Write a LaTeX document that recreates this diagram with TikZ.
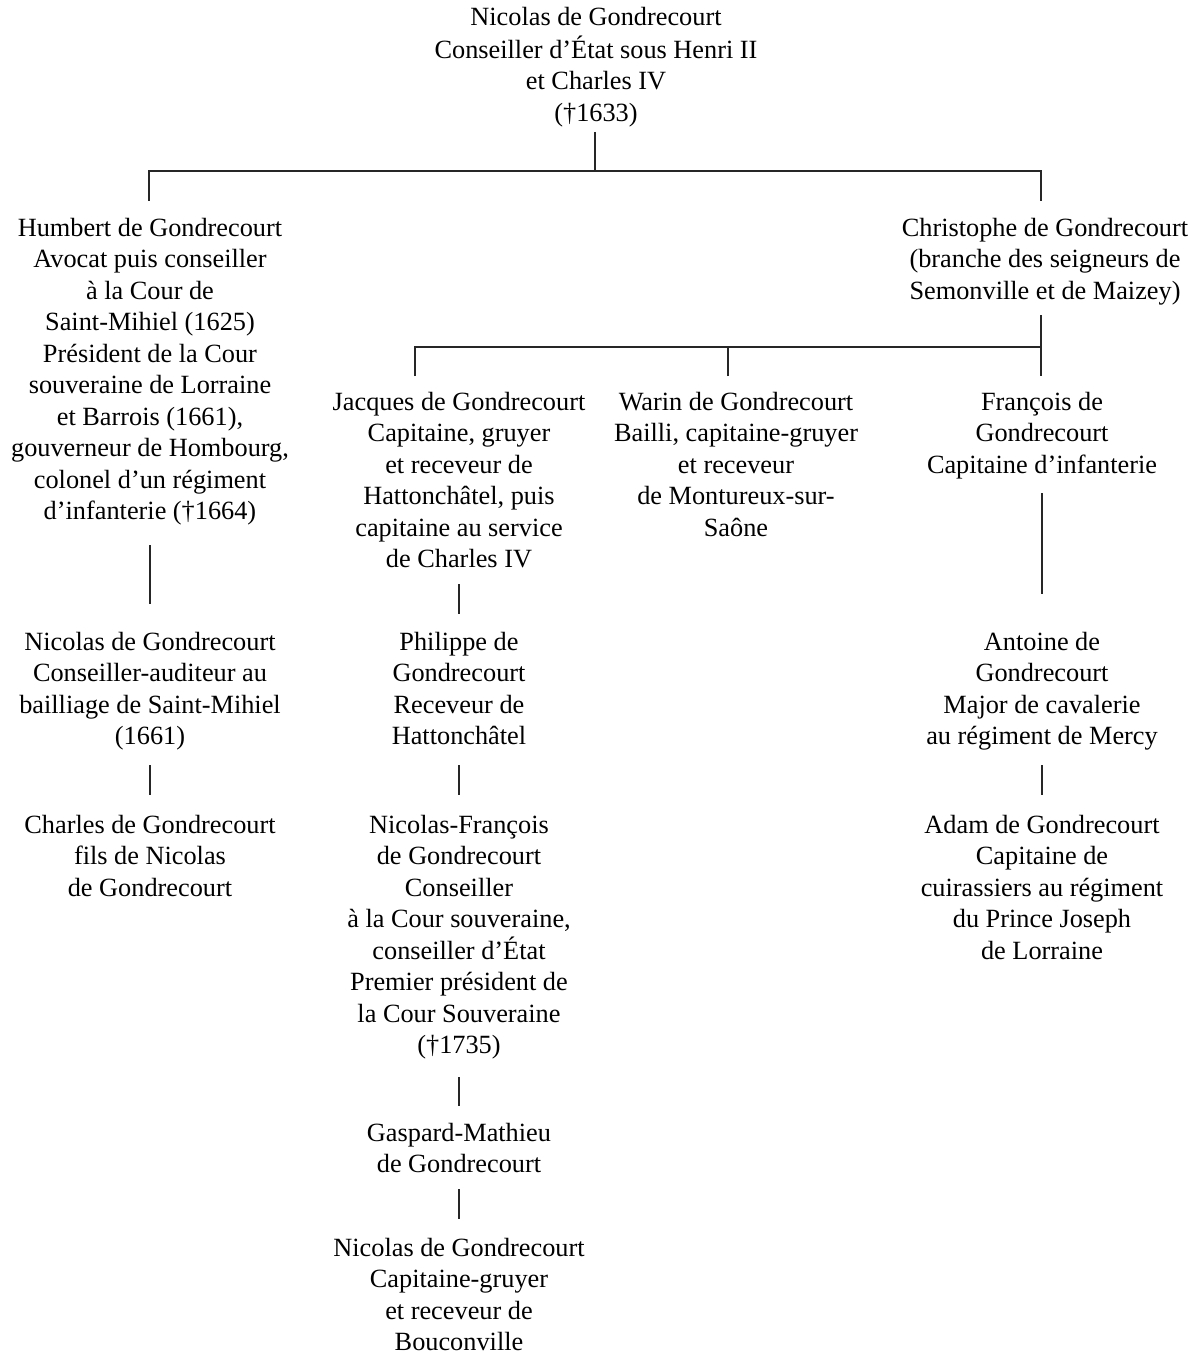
\documentclass[tikz,border=0pt]{standalone}
\usepackage{fontspec}
\setmainfont{Liberation Serif}
\newcommand{\famfont}{\fontsize{26.3bp}{31.5bp}\selectfont}
\begin{document}
\begin{tikzpicture}[x=1bp,y=-1bp,
  person/.style={anchor=north, align=center, inner sep=0pt, font=\famfont},
  link/.style={line width=2bp, draw=black!85}]
\useasboundingbox (0,0) rectangle (1196,1354);

% persons
\node[person] (root) at (596,3) {\strut Nicolas de Gondrecourt\\Conseiller d’État sous Henri II\\et Charles IV\\(†1633)};
\node[person] (humbert) at (150,214) {\strut Humbert de Gondrecourt\\Avocat puis conseiller\\à la Cour de\\Saint-Mihiel (1625)\\Président de la Cour\\souveraine de Lorraine\\et Barrois (1661),\\gouverneur de Hombourg,\\colonel d’un régiment\\d’infanterie (†1664)};
\node[person] (christophe) at (1045,214) {\strut Christophe de Gondrecourt\\(branche des seigneurs de\\Semonville et de Maizey)};
\node[person] (jacques) at (459,388) {\strut Jacques de Gondrecourt\\Capitaine, gruyer\\et receveur de\\Hattonchâtel, puis\\capitaine au service\\de Charles IV};
\node[person] (warin) at (736,388) {\strut Warin de Gondrecourt\\Bailli, capitaine-gruyer\\et receveur\\de Montureux-sur-\\Saône};
\node[person] (francois) at (1042,388) {\strut François de\\Gondrecourt\\Capitaine d’infanterie};
\node[person] (nicolas2) at (150,628) {\strut Nicolas de Gondrecourt\\Conseiller-auditeur au\\bailliage de Saint-Mihiel\\(1661)};
\node[person] (philippe) at (459,628) {\strut Philippe de\\Gondrecourt\\Receveur de\\Hattonchâtel};
\node[person] (antoine) at (1042,628) {\strut Antoine de\\Gondrecourt\\Major de cavalerie\\au régiment de Mercy};
\node[person] (charles) at (150,811) {\strut Charles de Gondrecourt\\fils de Nicolas\\de Gondrecourt};
\node[person] (nicfr) at (459,811) {\strut Nicolas-François\\de Gondrecourt\\Conseiller\\à la Cour souveraine,\\conseiller d’État\\Premier président de\\la Cour Souveraine\\(†1735)};
\node[person] (adam) at (1042,811) {\strut Adam de Gondrecourt\\Capitaine de\\cuirassiers au régiment\\du Prince Joseph\\de Lorraine};
\node[person] (gaspard) at (459,1119) {\strut Gaspard-Mathieu\\de Gondrecourt};
\node[person] (nicolas3) at (459,1234) {\strut Nicolas de Gondrecourt\\Capitaine-gruyer\\et receveur de\\Bouconville};

% connector points
\coordinate (rootS) at (595,132);
\coordinate (bar1) at (595,171);
\coordinate (humN) at (149,201);
\coordinate (chrN) at (1041,201);
\coordinate (chrS) at (1041,315);
\coordinate (bar2) at (1041,347);
\coordinate (jacN) at (415,376);
\coordinate (warN) at (728,376);
\coordinate (fraN) at (1041,376);
\coordinate (humS) at (150,545);
\coordinate (nic2N) at (150,604);
\coordinate (jacS) at (459,584);
\coordinate (phiN) at (459,614);
\coordinate (fraS) at (1042,493);
\coordinate (antN) at (1042,594);
\coordinate (nic2S) at (150,765);
\coordinate (chaN) at (150,795);
\coordinate (phiS) at (459,765);
\coordinate (nfrN) at (459,795);
\coordinate (antS) at (1042,765);
\coordinate (adaN) at (1042,795);
\coordinate (nfrS) at (459,1077);
\coordinate (gasN) at (459,1106);
\coordinate (gasS) at (459,1189);
\coordinate (nic3N) at (459,1219);

% connectors
\draw[link] (rootS) -- (bar1);
\draw[link] (humN) |- (bar1) -| (chrN);
\draw[link] (chrS) -- (fraN);
\draw[link] (jacN) |- (bar2);
\draw[link] (warN) -- (warN |- bar2);
\draw[link] (humS) -- (nic2N);
\draw[link] (jacS) -- (phiN);
\draw[link] (fraS) -- (antN);
\draw[link] (nic2S) -- (chaN);
\draw[link] (phiS) -- (nfrN);
\draw[link] (antS) -- (adaN);
\draw[link] (nfrS) -- (gasN);
\draw[link] (gasS) -- (nic3N);
\end{tikzpicture}
\end{document}
